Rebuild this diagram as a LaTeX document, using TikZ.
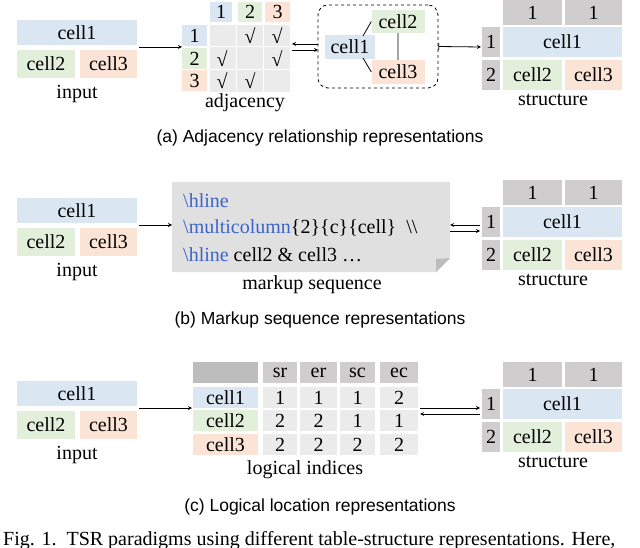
\documentclass[tikz,border=0pt]{standalone}
\usepackage{fontspec}
\setmainfont{Liberation Serif}
\newfontfamily\capfont{Liberation Sans}
\definecolor{cblue}{HTML}{DAE6F2}
\definecolor{cgreen}{HTML}{E2EFDA}
\definecolor{corange}{HTML}{FBE3D6}
\definecolor{clight}{HTML}{EBEBEB}
\definecolor{chead}{HTML}{CFCDCD}
\definecolor{cdark}{HTML}{BDBDBD}
\definecolor{ctex}{HTML}{3C64C8}
\newcommand{\bs}{\textcolor{ctex}{\textbackslash}}

% input block: prefix, top y
\newcommand{\inputblock}[2]{
    \node[cell, fill=cblue, minimum width=120, minimum height=25] (#1c1) at (77,#2+12.5) {cell1};
    \node[cell, fill=cgreen, minimum width=58, minimum height=28] (#1c2) at (46,#2+44) {cell2};
    \node[cell, fill=corange, minimum width=57, minimum height=28] (#1c3) at (108.5,#2+44) {cell3};
    \node[lbl] (#1lbl) at (77,#2+74) {input};
    \coordinate (#1out) at (139,#2+27);
}
% structure block: prefix, top y
\newcommand{\structblock}[2]{
    \node[cell, fill=chead, minimum width=59, minimum height=25] (#1h1) at (532.5,#2+12.5) {1};
    \node[cell, fill=chead, minimum width=57, minimum height=25] (#1h2) at (593.5,#2+12.5) {1};
    \node[cell, fill=chead, minimum width=18, minimum height=30] (#1r1) at (491,#2+42) {1};
    \node[cell, fill=chead, minimum width=18, minimum height=30] (#1r2) at (491,#2+75) {2};
    \node[cell, fill=cblue, minimum width=119, minimum height=30] (#1c1) at (562.5,#2+42) {cell1};
    \node[cell, fill=cgreen, minimum width=59, minimum height=30] (#1c2) at (532.5,#2+75) {cell2};
    \node[cell, fill=corange, minimum width=57, minimum height=30] (#1c3) at (593.5,#2+75) {cell3};
    \node[lbl] (#1lbl) at (553,#2+100) {structure};
    \coordinate (#1in) at (481,#2+47);
}

\begin{document}
\begin{tikzpicture}[x=1pt, y=-1pt]
    \tikzstyle{cell}=[inner sep=0pt, font=\fontsize{20}{22}\selectfont, text=black]
    \tikzstyle{lbl}=[inner sep=0pt, font=\fontsize{20}{22}\selectfont]
    \tikzstyle{subcap}=[inner sep=0pt, font=\capfont\fontsize{17.5}{19}\selectfont]
    \tikzstyle{arr}=[->, black, thick, >=stealth]
    \useasboundingbox (0,0) rectangle (640,548);

    % (a) adjacency
    \inputblock{ia}{20}
    \structblock{sa}{0}
    \node[cell, fill=cblue, minimum width=22, minimum height=20] (ch1) at (221,12) {1};
    \node[cell, fill=cgreen, minimum width=24, minimum height=20] (ch2) at (250,12) {2};
    \node[cell, fill=corange, minimum width=25, minimum height=20] (ch3) at (277.5,12) {3};
    \node[cell, fill=cblue, minimum width=25, minimum height=21] (rh1) at (194.5,36) {1};
    \node[cell, fill=cgreen, minimum width=25, minimum height=21] (rh2) at (194.5,58.5) {2};
    \node[cell, fill=corange, minimum width=25, minimum height=21] (rh3) at (194.5,81) {3};
    \fill[clight] (210,25) rectangle (290,92);
    \draw[white, line width=1pt] (236,25) -- (236,92) (263,25) -- (263,92) (210,47) -- (290,47) (210,70) -- (290,70);
    \node[cell] (m12) at (250,36) {√};
    \node[cell] (m13) at (277,36) {√};
    \node[cell] (m21) at (222,58.5) {√};
    \node[cell] (m23) at (277,58.5) {√};
    \node[cell] (m31) at (222,81) {√};
    \node[cell] (m32) at (250,81) {√};
    \node[lbl] (adjlbl) at (245,103) {adjacency};

    \node[draw, dashed, thick, rounded corners=10pt, minimum width=120, minimum height=83, inner sep=0pt] (graph) at (378,46.5) {};
    \node[cell, fill=cblue, minimum width=50, minimum height=24] (g1) at (350,47) {cell1};
    \node[cell, fill=cgreen, minimum width=53, minimum height=23] (g2) at (398,21.5) {cell2};
    \node[cell, fill=corange, minimum width=53, minimum height=24] (g3) at (398,72) {cell3};
    \coordinate (g1a) at (363,36);
    \coordinate (g1b) at (363,58);
    \draw[thick] (g1a) -- (g2.west) (g1b) -- (g3.west) (g2) -- (g3);

    \coordinate (a0) at (182,47);
    \coordinate (a1) at (292,44);
    \coordinate (a2) at (318,44);
    \coordinate (a3) at (292,50);
    \coordinate (a4) at (318,50);
    \draw[arr] (iaout) -- (a0);
    \draw[arr] (a2) -- (a1);
    \draw[arr] (a3) -- (a4);
    \draw[arr, |->] (graph.east) -- (sain);
    \node[subcap] (capa) at (320,138) {(a) Adjacency relationship representations};

    % (b) markup
    \inputblock{ib}{198}
    \structblock{sb}{180}
    \fill[clight!90!gray] (172,182) -- (450,182) -- (450,258) -- (436,272) -- (172,272) -- cycle;
    \fill[cdark] (450,258) -- (436,259) -- (436,272) -- cycle;
    \node[cell, anchor=west] (mk1) at (183,201) {\bs\textcolor{ctex}{hline}};
    \node[cell, anchor=west] (mk2) at (183,228) {\bs\textcolor{ctex}{multicolumn}\{2\}\{c\}\{cell\}\ \ \textbackslash\textbackslash};
    \node[cell, anchor=west] (mk3) at (183,255) {\bs\textcolor{ctex}{hline} cell2 \& cell3 …};
    \node[lbl] (mklbl) at (312,285) {markup sequence};
    \coordinate (mk) at (172,225);
    \coordinate (b1) at (450,225);
    \coordinate (b2) at (480,225);
    \coordinate (b3) at (450,231);
    \coordinate (b4) at (480,231);
    \draw[arr] (ibout) -- (mk);
    \draw[arr] (b2) -- (b1);
    \draw[arr] (b3) -- (b4);
    \node[subcap] (capb) at (320,320) {(b) Markup sequence representations};

    % (c) logical indices
    \inputblock{ic}{381}
    \structblock{sc}{362}
    \node[cell, fill=cdark, minimum width=65, minimum height=21] (lh0) at (225.5,372.5) {};
    \foreach \name/\x/\w in {sr/280/34, er/318.5/37, sc/357.5/35, ec/399/38}
        \node[cell, fill=chead, minimum width=\w, minimum height=21] (lh\name) at (\x,372.5) {\name};
    \foreach \i/\y/\col in {1/397.5/cblue, 2/420.5/cgreen, 3/444.5/corange}
        \node[cell, fill=\col, minimum width=65, minimum height=21] (lr\i) at (225.5,\y) {cell\i};
    \foreach \i/\y/\a/\b/\c/\d in {1/397.5/1/1/1/2, 2/420.5/2/2/1/1, 3/444.5/2/2/2/2} {
        \node[cell, fill=clight, minimum width=34, minimum height=21] (l\i a) at (280,\y) {\a};
        \node[cell, fill=clight, minimum width=37, minimum height=21] (l\i b) at (318.5,\y) {\b};
        \node[cell, fill=clight, minimum width=35, minimum height=21] (l\i c) at (357.5,\y) {\c};
        \node[cell, fill=clight, minimum width=38, minimum height=21] (l\i d) at (399,\y) {\d};
    }
    \node[lbl] (loglbl) at (305,470) {logical indices};
    \coordinate (c0) at (192,408);
    \coordinate (c1) at (420,408);
    \coordinate (c2) at (480,408);
    \coordinate (c3) at (420,414);
    \coordinate (c4) at (480,414);
    \draw[arr] (icout) -- (c0);
    \draw[arr] (c1) -- (c2);
    \draw[arr] (c4) -- (c3);
    \node[subcap] (capc) at (320,507) {(c) Logical location representations};

    \node[lbl, anchor=west] (fig) at (3,541) {Fig. 1.\ \ TSR paradigms using different table-structure representations. Here,};
\end{tikzpicture}
\end{document}
